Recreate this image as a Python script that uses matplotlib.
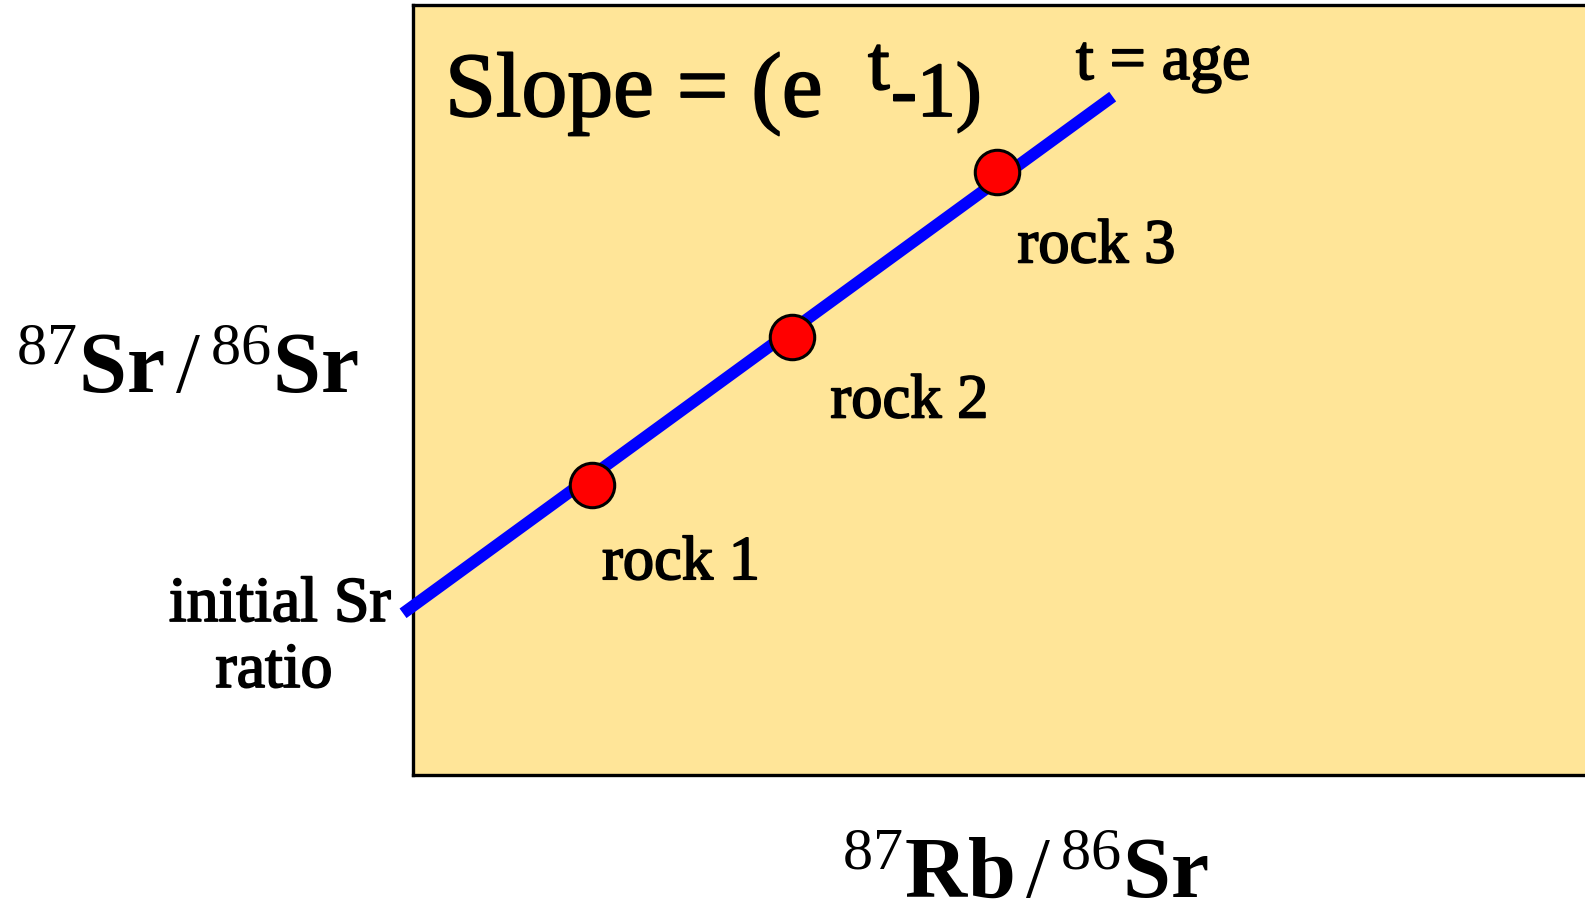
import matplotlib
matplotlib.use("Agg")
import matplotlib.pyplot as plt
import matplotlib.patheffects as pe

plt.rcParams.update({
    "font.family": ["Liberation Serif", "DejaVu Serif"],
    "mathtext.fontset": "custom",
    "mathtext.rm": "Liberation Serif",
    "mathtext.bf": "Liberation Serif:bold",
    "mathtext.it": "Liberation Serif:italic",
})

# isochron line and the three rock samples (arbitrary units, 0-100 box)
line_x = [-0.85, 59.7]
line_y = [21.0, 88.1]
rock_names = ["rock 1", "rock 2", "rock 3"]
rock_rb = [15.3, 32.3, 49.8]
rock_sr = [37.7, 56.9, 78.3]
label_offsets = [(7, -68), (28, -58), (15, -65)]   # points, label baseline vs sample

# slightly heavier text, like the original slide font
heavy = [pe.withStroke(linewidth=1.3, foreground="black")]

W, H = 1585, 920
fig = plt.figure(figsize=(W / 100, H / 100), dpi=100)
ax = fig.add_axes([413 / W, 1 - 776 / H, 1 - 413 / W, (776 - 6) / H])
ax.set_facecolor("#FFE598")
ax.set_xlim(0, 100)
ax.set_ylim(0, 100)
ax.set_xticks([])
ax.set_yticks([])
for side in ["left", "top", "bottom"]:
    ax.spines[side].set_linewidth(2.4)
    ax.spines[side].set_color("black")
ax.spines["right"].set_visible(False)

ax.plot(line_x, line_y, color="#0000FF", lw=8.5, solid_capstyle="butt",
        clip_on=False, zorder=3)
ax.plot(rock_rb, rock_sr, "o", ms=32, mfc="#FF0000", mec="black", mew=2.2,
        zorder=4)

for name, xv, yv, off in zip(rock_names, rock_rb, rock_sr, label_offsets):
    ax.annotate(name, (xv, yv), xytext=off, textcoords="offset points",
                fontsize=45, ha="left", va="baseline", path_effects=heavy)

def fx(px):
    return px / W

def fy(py):
    return 1 - py / H

# slope formula
fig.text(fx(445), fy(117), "Slope = (e", fontsize=66, va="baseline", path_effects=heavy)
fig.text(fx(868), fy(90), "t", fontsize=56, va="baseline", path_effects=heavy)
fig.text(fx(891), fy(117), "-1)", fontsize=56, va="baseline", path_effects=heavy)
fig.text(fx(1076), fy(80), "t = age", fontsize=46, va="baseline", path_effects=heavy)

fig.text(fx(280), fy(622), "initial Sr", fontsize=46, ha="center", va="baseline",
         path_effects=heavy)
fig.text(fx(274), fy(688), "ratio", fontsize=46, ha="center", va="baseline",
         path_effects=heavy)

fig.text(fx(187), fy(393), r"${}^{87}\mathbf{Sr}\,/\,{}^{86}\mathbf{Sr}$",
         fontsize=62, ha="center", va="baseline")
fig.text(fx(1025), fy(898), r"${}^{87}\mathbf{Rb}\,/\,{}^{86}\mathbf{Sr}$",
         fontsize=62, ha="center", va="baseline")

fig.savefig("out.png", dpi=100)
